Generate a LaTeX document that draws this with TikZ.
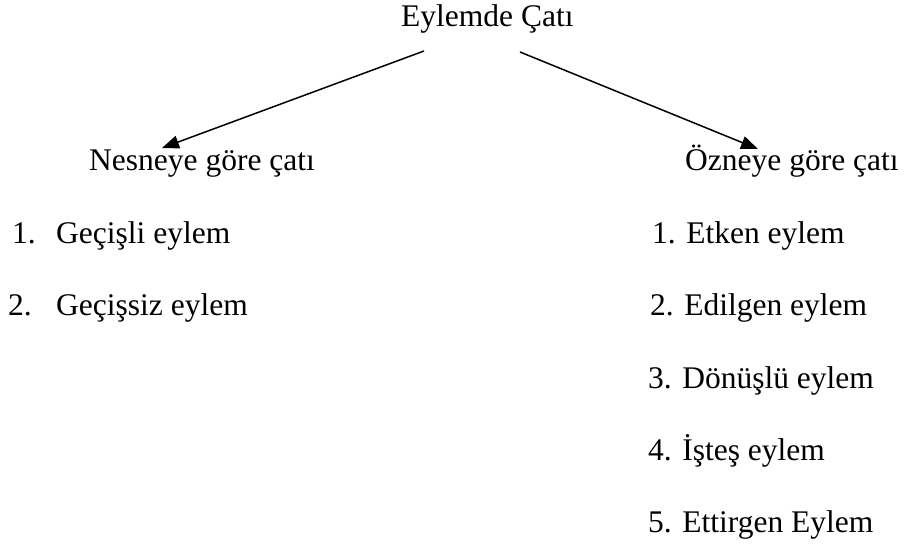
\documentclass[tikz,border=0pt]{standalone}
\usepackage{fontspec}
\setmainfont{Liberation Serif}
\usetikzlibrary{arrows.meta}
\begin{document}
\begin{tikzpicture}[x=1pt,y=-1pt,
  lbl/.style={anchor=base west,inner sep=0pt,font=\fontsize{31.5}{36}\selectfont},
  link/.style={line width=1.5pt,-{Triangle[length=17pt,width=13pt]}}]
\useasboundingbox (0,0) rectangle (907,544);

% root
\node[lbl] (root) at (401,26) {Eylemde Çatı};

% two branches
\node[lbl] (obj) at (89,170) {Nesneye göre çatı};
\node[lbl] (subj) at (685,170) {Özneye göre çatı};

% left list (number and tab-aligned text)
\node[lbl] (n1) at (12,243) {1.};
\node[lbl] (l1) at (56,243) {Geçişli eylem};
\node[lbl] (n2) at (8,315) {2.};
\node[lbl] (l2) at (56,315) {Geçişsiz eylem};

% right list
\node[lbl] (r1) at (652,243) {1. Etken eylem};
\node[lbl] (r2) at (650,315) {2. Edilgen eylem};
\node[lbl] (r3) at (648,388) {3. Dönüşlü eylem};
\node[lbl] (r4) at (648,460) {4. İşteş eylem};
\node[lbl] (r5) at (648,532) {5. Ettirgen Eylem};

% connectors
\coordinate (rootL) at (424,51);
\coordinate (rootR) at (520,52);
\coordinate (objTip) at (162,148);
\coordinate (subjTip) at (758,149);
\draw[link] (rootL) -- (objTip);
\draw[link] (rootR) -- (subjTip);
\end{tikzpicture}
\end{document}
